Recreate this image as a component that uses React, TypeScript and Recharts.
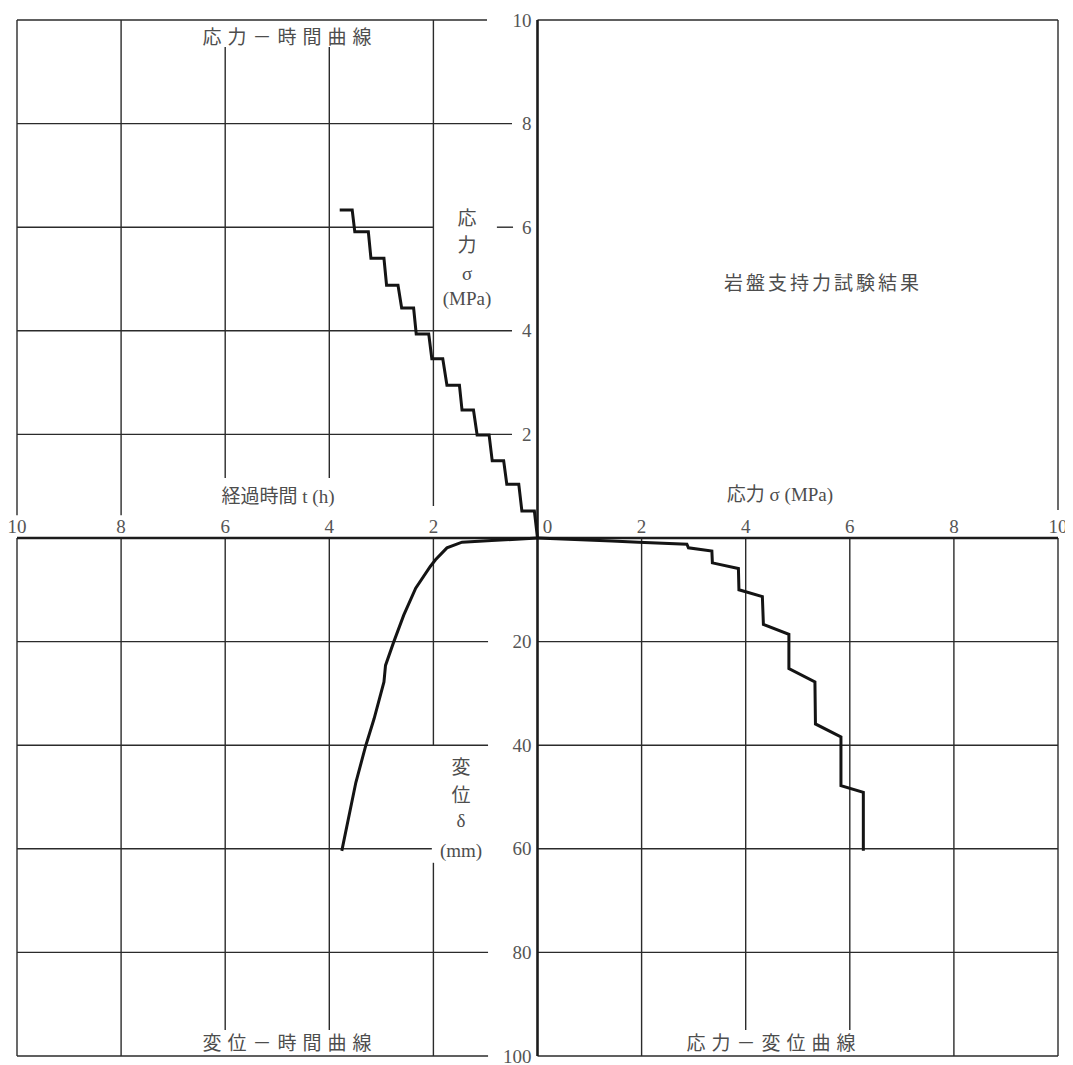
import { ReferenceLine, Scatter, ScatterChart, XAxis, YAxis } from "recharts";

// 応力－時間曲線 (upper left): elapsed time t (h) vs stress σ (MPa)
const stTime = [0, 0.06, 0.3, 0.36, 0.59, 0.65, 0.87, 0.93, 1.16, 1.23, 1.45, 1.5, 1.74, 1.82, 2.03, 2.09, 2.33, 2.38, 2.61, 2.68, 2.9, 2.95, 3.2, 3.25, 3.51, 3.56, 3.8];
const stStress = [0, 0.52, 0.52, 1.04, 1.04, 1.49, 1.49, 1.99, 1.99, 2.47, 2.47, 2.95, 2.95, 3.46, 3.46, 3.94, 3.94, 4.44, 4.44, 4.88, 4.88, 5.4, 5.4, 5.91, 5.91, 6.33, 6.33];

// 変位－時間曲線 (lower left): elapsed time t (h) vs displacement δ (mm)
const dtTime = [0, 0.88, 1.45, 1.74, 1.96, 2.06, 2.34, 2.57, 2.76, 2.92, 2.95, 3.14, 3.3, 3.49, 3.76];
const dtDisp = [0, 0.5, 0.8, 1.9, 4.2, 5.5, 9.7, 14.9, 20.0, 24.6, 27.8, 34.9, 40.1, 47.2, 60.4];

// 応力－変位曲線 (lower right): stress σ (MPa) vs displacement δ (mm)
const sdStress = [0, 1.43, 1.94, 2.87, 2.9, 3.35, 3.36, 3.86, 3.87, 4.32, 4.34, 4.83, 4.83, 5.33, 5.34, 5.83, 5.83, 6.26, 6.26];
const sdDisp = [0, 0.6, 0.8, 1.2, 1.9, 2.5, 4.8, 5.9, 10.0, 11.3, 16.7, 18.6, 25.2, 27.8, 35.9, 38.4, 47.8, 49.1, 60.4];

const timeTicks = [2, 4, 6, 8, 10];
const stressTicks = [0, 2, 4, 6, 8, 10];
const stressYTicks = [2, 4, 6, 8, 10];
const dispTicks = [20, 40, 60, 80, 100];

const stressTime = stTime.map((t, i) => ({ t, sigma: stStress[i] }));
const dispTime = dtTime.map((t, i) => ({ t, d: dtDisp[i] }));
const stressDisp = sdStress.map((sigma, i) => ({ sigma, d: sdDisp[i] }));

const W = 1062;
const H = 1057;
// plot insets; each of the two x axes takes 1px at the bottom, each y axis 1px at the left
const P = { top: 12, right: 12, bottom: 9, left: 9 };
const M = { top: P.top, right: P.right, bottom: P.bottom - 2, left: P.left - 2 };
const CX = P.left + (W - P.left - P.right) / 2;
const CY = P.top + (H - P.top - P.bottom) / 2;

const SERIF = "'Liberation Serif', 'Noto Sans CJK JP', serif";
const TEXT = "#4d4d4d";
const GRID = "#2b2b2b";
const INK = "#141414";

type Seg = { x: "t" | "s"; y: "sy" | "d"; a: [number, number]; b: [number, number] };

// grid pieces, with the gaps the original leaves around its labels
const gridSegs: Seg[] = [
  // upper left
  { x: "t", y: "sy", a: [10, 10], b: [0.97, 10] },
  { x: "t", y: "sy", a: [10, 8], b: [0.49, 8] },
  { x: "t", y: "sy", a: [10, 6], b: [2, 6] },
  { x: "t", y: "sy", a: [0.78, 6], b: [0.47, 6] },
  { x: "t", y: "sy", a: [10, 4], b: [0.49, 4] },
  { x: "t", y: "sy", a: [10, 2], b: [0.49, 2] },
  { x: "t", y: "sy", a: [10, 10], b: [10, 0.44] },
  { x: "t", y: "sy", a: [8, 10], b: [8, 0.44] },
  { x: "t", y: "sy", a: [6, 9.48], b: [6, 1.16] },
  { x: "t", y: "sy", a: [4, 9.48], b: [4, 1.16] },
  { x: "t", y: "sy", a: [2, 10], b: [2, 0.62] },
  // lower left
  { x: "t", y: "d", a: [10, 20], b: [0.95, 20] },
  { x: "t", y: "d", a: [10, 40], b: [0.95, 40] },
  { x: "t", y: "d", a: [10, 60], b: [2.03, 60] },
  { x: "t", y: "d", a: [10, 80], b: [0.95, 80] },
  { x: "t", y: "d", a: [10, 100], b: [0.95, 100] },
  { x: "t", y: "d", a: [10, 0], b: [10, 100] },
  { x: "t", y: "d", a: [8, 0], b: [8, 100] },
  { x: "t", y: "d", a: [6, 0], b: [6, 95] },
  { x: "t", y: "d", a: [4, 0], b: [4, 95] },
  { x: "t", y: "d", a: [2, 0], b: [2, 40] },
  { x: "t", y: "d", a: [2, 62.7], b: [2, 100] },
  // upper right
  { x: "s", y: "sy", a: [0, 10], b: [10, 10] },
  { x: "s", y: "sy", a: [10, 10], b: [10, 0.54] },
  // lower right
  { x: "s", y: "d", a: [0, 20], b: [10, 20] },
  { x: "s", y: "d", a: [0, 40], b: [10, 40] },
  { x: "s", y: "d", a: [0, 60], b: [10, 60] },
  { x: "s", y: "d", a: [0, 80], b: [10, 80] },
  { x: "s", y: "d", a: [0, 100], b: [10, 100] },
  { x: "s", y: "d", a: [2, 0], b: [2, 100] },
  { x: "s", y: "d", a: [4, 0], b: [4, 95] },
  { x: "s", y: "d", a: [6, 0], b: [6, 95] },
  { x: "s", y: "d", a: [8, 0], b: [8, 100] },
  { x: "s", y: "d", a: [10, 0], b: [10, 100] },
];

const axisSegs: Seg[] = [
  { x: "t", y: "sy", a: [10, 0], b: [0, 0] },
  { x: "s", y: "sy", a: [0, 0], b: [10, 0] },
  { x: "t", y: "sy", a: [0, 10], b: [0, 0] },
  { x: "t", y: "d", a: [0, 0], b: [0, 100] },
];

const numStyle = { fontFamily: SERIF, fontSize: 19, fill: "#555" };
const jpStyle = { fontFamily: SERIF, fontSize: 19, fill: TEXT };

const timeTick = ({ x, payload }: any) => (
  <text x={x} y={CY - 12} textAnchor="middle" dominantBaseline="central" {...numStyle}>
    {payload.value}
  </text>
);
const stressTick = ({ x, payload }: any) => (
  <text x={x + (payload.value === 0 ? 10 : 0)} y={CY - 12} textAnchor="middle" dominantBaseline="central" {...numStyle}>
    {payload.value}
  </text>
);
const yTick = ({ y, payload }: any) => (
  <text x={CX - 6} y={y} textAnchor="end" dominantBaseline="central" {...numStyle}>
    {payload.value}
  </text>
);

const noDot = () => <g />;

function seg(s: Seg, i: number, width: number, color: string, key: string) {
  return (
    <ReferenceLine
      key={key + i}
      xAxisId={s.x}
      yAxisId={s.y}
      segment={[
        { x: s.a[0], y: s.a[1] },
        { x: s.b[0], y: s.b[1] },
      ]}
      stroke={color}
      strokeWidth={width}
      ifOverflow="visible"
    />
  );
}

export default function App() {
  return (
    <div style={{ width: W, height: H, background: "#fff" }}>
      <ScatterChart width={W} height={H} margin={M}>
        <XAxis xAxisId="t" dataKey="t" type="number" domain={[-10, 10]} reversed allowDataOverflow
          ticks={timeTicks} interval={0} height={1} axisLine={false} tickLine={false} tick={timeTick} />
        <XAxis xAxisId="s" dataKey="sigma" type="number" domain={[-10, 10]} allowDataOverflow
          ticks={stressTicks} interval={0} height={1} axisLine={false} tickLine={false} tick={stressTick} />
        <YAxis yAxisId="sy" dataKey="sigma" type="number" domain={[-10, 10]} allowDataOverflow
          ticks={stressYTicks} interval={0} width={1} axisLine={false} tickLine={false} tick={yTick} />
        <YAxis yAxisId="d" dataKey="d" type="number" domain={[-100, 100]} reversed allowDataOverflow
          ticks={dispTicks} interval={0} width={1} axisLine={false} tickLine={false} tick={yTick} />

        {gridSegs.map((s, i) => seg(s, i, 1.4, GRID, "g"))}
        {axisSegs.map((s, i) => seg(s, i, 2.6, "#1c1c1c", "a"))}

        <Scatter name="応力－時間" data={stressTime} xAxisId="t" yAxisId="sy" shape={noDot}
          line={{ stroke: INK, strokeWidth: 3 }} isAnimationActive={false} />
        <Scatter name="変位－時間" data={dispTime} xAxisId="t" yAxisId="d" shape={noDot}
          line={{ stroke: INK, strokeWidth: 3 }} isAnimationActive={false} />
        <Scatter name="応力－変位" data={stressDisp} xAxisId="s" yAxisId="d" shape={noDot}
          line={{ stroke: INK, strokeWidth: 3 }} isAnimationActive={false} />

        <g>
          <text x={282} y={29} textAnchor="middle" dominantBaseline="central" letterSpacing={6} {...jpStyle}>応力－時間曲線</text>
          <text x={282} y={1035} textAnchor="middle" dominantBaseline="central" letterSpacing={6} {...jpStyle}>変位－時間曲線</text>
          <text x={766} y={1035} textAnchor="middle" dominantBaseline="central" letterSpacing={6} {...jpStyle}>応力－変位曲線</text>
          <text x={815} y={275} textAnchor="middle" dominantBaseline="central" letterSpacing={3} {...jpStyle}>岩盤支持力試験結果</text>
          <text x={270} y={488} textAnchor="middle" dominantBaseline="central" {...jpStyle}>経過時間 t (h)</text>
          <text x={772} y={486} textAnchor="middle" dominantBaseline="central" {...jpStyle}>応力 σ (MPa)</text>

          <text x={459} y={210} textAnchor="middle" dominantBaseline="central" {...jpStyle}>応</text>
          <text x={459} y={237} textAnchor="middle" dominantBaseline="central" {...jpStyle}>力</text>
          <text x={459} y={265} textAnchor="middle" dominantBaseline="central" {...jpStyle}>σ</text>
          <text x={459} y={290} textAnchor="middle" dominantBaseline="central" {...jpStyle}>(MPa)</text>

          <text x={453} y={759} textAnchor="middle" dominantBaseline="central" {...jpStyle}>変</text>
          <text x={453} y={787} textAnchor="middle" dominantBaseline="central" {...jpStyle}>位</text>
          <text x={453} y={812} textAnchor="middle" dominantBaseline="central" {...jpStyle}>δ</text>
          <text x={453} y={842} textAnchor="middle" dominantBaseline="central" {...jpStyle}>(mm)</text>
        </g>
      </ScatterChart>
    </div>
  );
}
